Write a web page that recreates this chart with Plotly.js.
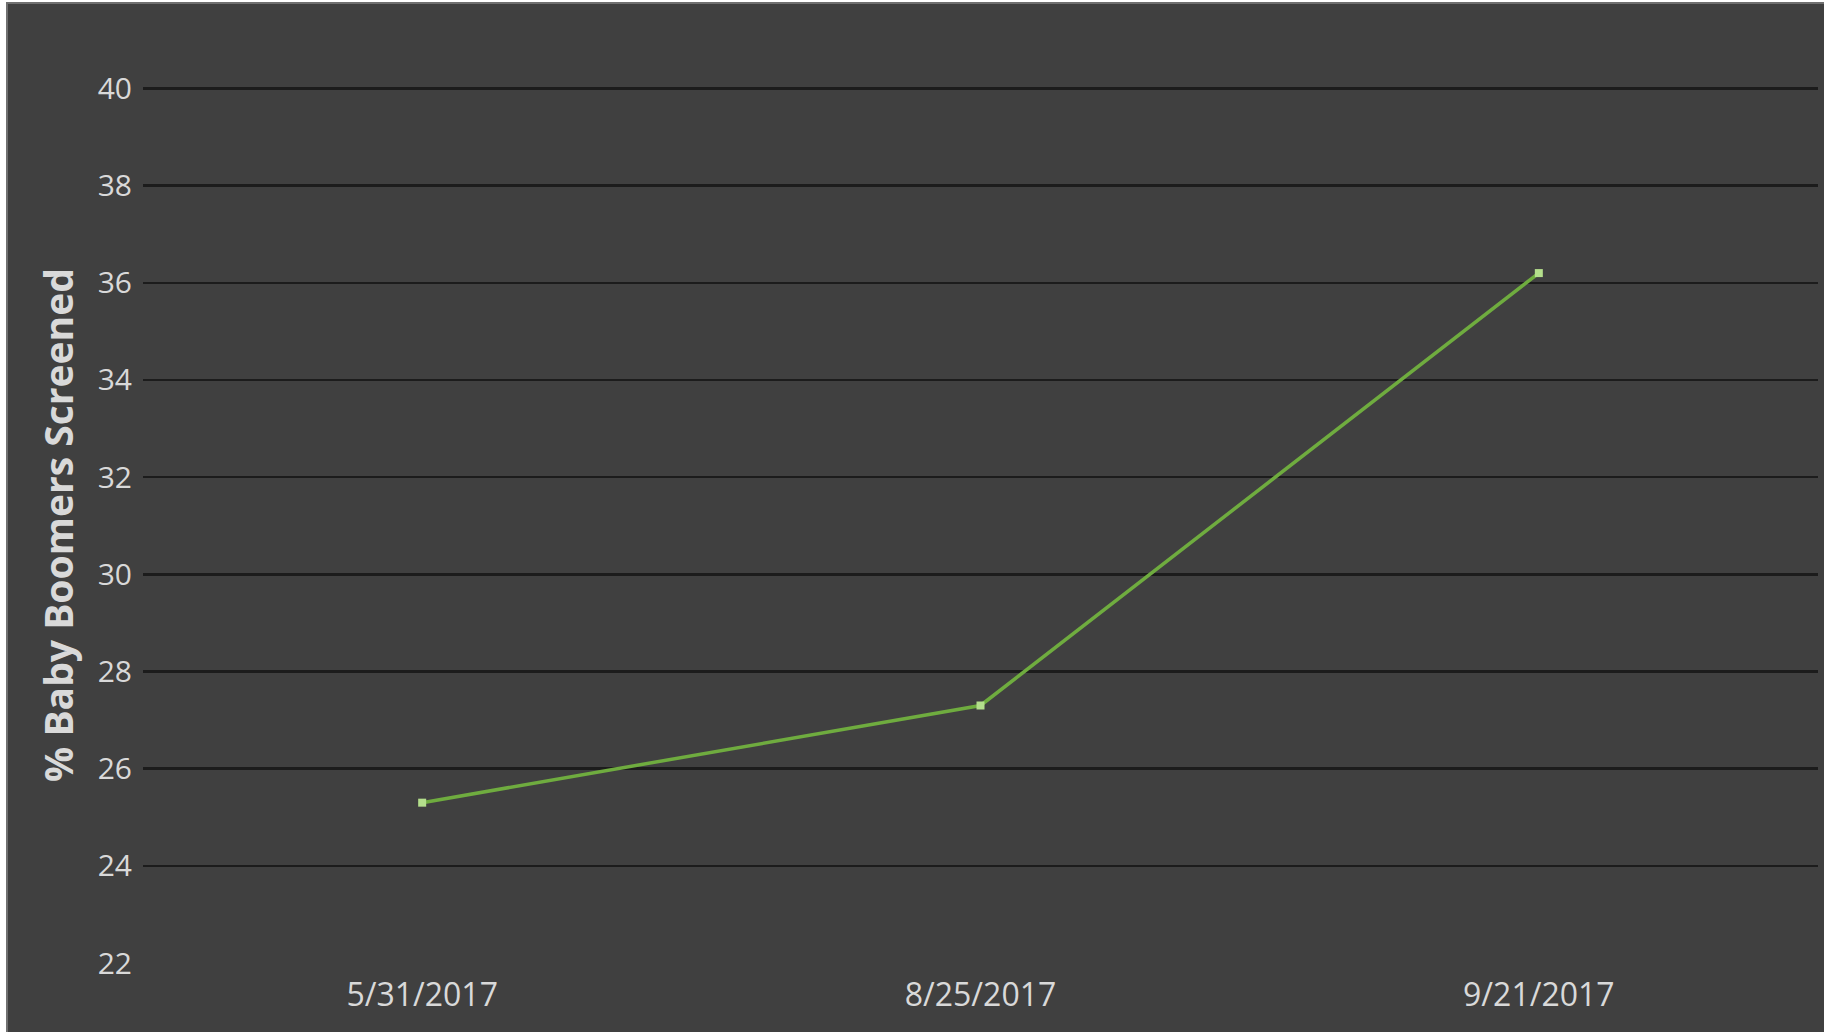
<!DOCTYPE html>
<html>
<head>
<meta charset="utf-8">
<script src="https://cdn.plot.ly/plotly-3.0.1.min.js"></script>
<style>
  html, body { margin: 0; padding: 0; background: #ffffff; width: 1824px; height: 1032px; overflow: hidden; }
  #frame { position: absolute; left: 6px; top: 2px; width: 1816px; height: 1028px;
           border-left: 2px solid #707070; border-top: 2px solid #707070; background: #404040; }
  #chart { width: 1816px; height: 1028px; }
</style>
</head>
<body>
<div id="frame"><div id="chart"></div></div>
<script>
const categories = ["5/31/2017", "8/25/2017", "9/21/2017"];
const screenedPct = [25.3, 27.3, 36.2];
const yTickValues = [22, 24, 26, 28, 30, 32, 34, 36, 38, 40];
const yTitle = "% Baby Boomers Screened";

const trace = {
  type: "scatter",
  mode: "lines+markers",
  x: categories,
  y: screenedPct,
  line: { color: "#6fac3f", width: 3.5 },
  marker: { symbol: "square", size: 8, color: "#b4df8c", line: { width: 0 } },
  hoverinfo: "x+y"
};

const layout = {
  width: 1816,
  height: 1028,
  paper_bgcolor: "#404040",
  plot_bgcolor: "#404040",
  margin: { l: 135, r: 6, t: 83, b: 69 },
  showlegend: false,
  font: { family: "Open Sans, sans-serif", color: "#d9d9d9" },
  xaxis: {
    type: "category",
    range: [-0.5, 2.5],
    showgrid: false,
    zeroline: false,
    showline: true,
    linecolor: "#404040",
    linewidth: 5,
    ticks: "",
    ticklabelstandoff: 0,
    tickfont: { size: 32, color: "#d9d9d9", family: "Open Sans, sans-serif" }
  },
  yaxis: {
    range: [22, 40.03],
    tickvals: yTickValues,
    showgrid: true,
    gridcolor: "#1c1c1c",
    gridwidth: 2.5,
    zeroline: false,
    showline: false,
    ticks: "",
    ticklabelstandoff: 10,
    tickfont: { size: 30, color: "#d9d9d9", family: "Open Sans, sans-serif" },
    automargin: false,
    title: {
      text: yTitle,
      standoff: 12,
      font: { size: 39, color: "#d9d9d9", family: "Open Sans, sans-serif", weight: "bold" }
    }
  }
};

Plotly.newPlot("chart", [trace], layout, { displayModeBar: false, staticPlot: true });
</script>
</body>
</html>
